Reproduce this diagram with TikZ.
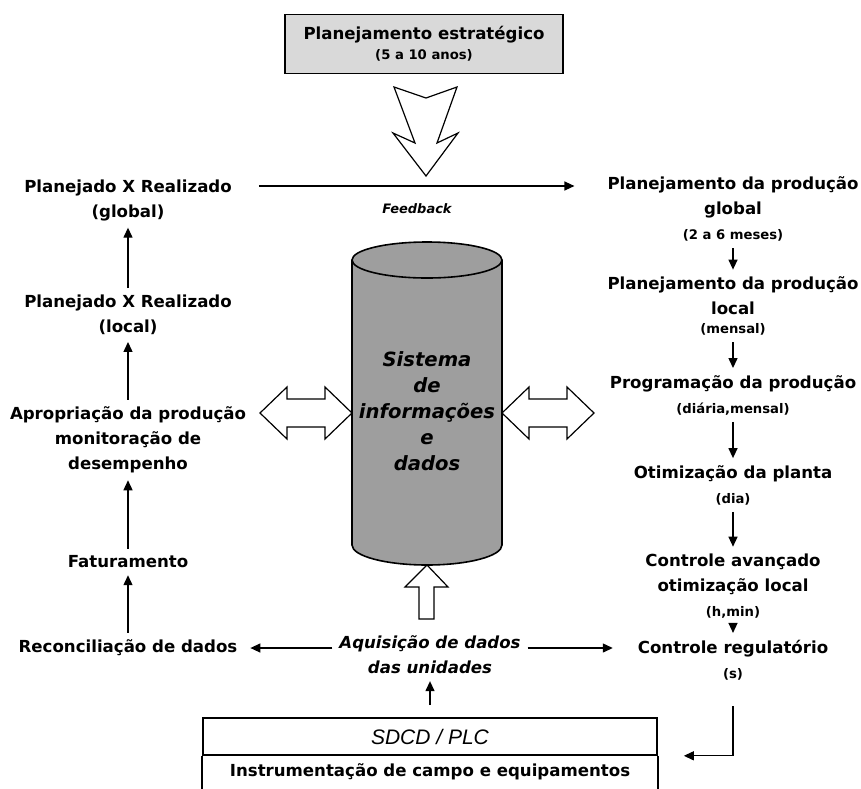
\documentclass[tikz,border=0pt]{standalone}
\usepackage{fontspec}
\setmainfont{DejaVu Sans}
\newfontfamily\plcfont{Liberation Sans}
\usetikzlibrary{arrows.meta, positioning, calc}

\newcommand{\minitxt}[1]{{\fontsize{6.6}{8}\selectfont #1}}

\tikzset{
  lbl/.style={font=\fontsize{8.3}{12.5}\selectfont\bfseries, align=center},
  flow/.style={-{Triangle[length=5pt,width=4.5pt]}, line width=0.65pt},
  blockarrow/.style={draw, fill=white, line width=0.6pt, line join=miter},
}

\begin{document}
\begin{tikzpicture}[x=0.5pt, y=-0.5pt]
        \useasboundingbox (0,0) rectangle (861,788);

        % Planejamento estrategico (box at the top)
        \node[draw, fill=black!15, line width=0.8pt, minimum width=139pt, minimum height=29.5pt,
              align=center, font=\fontsize{8.3}{10}\selectfont\bfseries] (pe) at (424,44)
              {Planejamento estratégico\\\minitxt{(5 a 10 anos)}};

        % big arrow down from the top box
        \draw[blockarrow] (394,87) -- (426,98) -- (457,87) -- (437,143) -- (458,133)
              -- (426,176) -- (393,133) -- (415,143) -- cycle;

        % left column (bottom to top)
        \node[lbl] (prg) at (128,200) {Planejado X Realizado\\(global)};
        \node[lbl] (prl) at (128,315) {Planejado X Realizado\\(local)};
        \node[lbl] (apr) at (128,440) {Apropriação da produção\\monitoração de\\desempenho};
        \node[lbl] (fat) at (128,562) {Faturamento};
        \node[lbl] (rec) at (128,648) {Reconciliação de dados};

        \draw[flow] (rec) -- (fat);
        \draw[flow] (fat) -- (apr);
        \draw[flow] (apr) -- (prl);
        \draw[flow] (prl) -- (prg);

        % right column (top to bottom)
        \node[lbl] (ppg) at (733,209) {Planejamento da produção\\global\\\minitxt{(2 a 6 meses)}};
        \node[lbl] (ppl) at (733,306) {Planejamento da produção\\local\\[-3pt]\minitxt{(mensal)}};
        \node[lbl] (prog) at (733,395) {Programação da produção\\\minitxt{(diária,mensal)}};
        \node[lbl] (otim) at (733,485) {Otimização da planta\\\minitxt{(dia)}};
        \node[lbl] (cav) at (733,586) {Controle avançado\\otimização local\\\minitxt{(h,min)}};
        \node[lbl] (creg) at (733,660) {Controle regulatório\\\minitxt{(s)}};

        \draw[flow] (ppg) -- (ppl);
        \draw[flow] (ppl) -- (prog);
        \draw[flow] (prog) -- (otim);
        \draw[flow] (otim) -- (cav);
        \draw[flow] (cav) -- (creg);

        % feedback line
        \coordinate (fbline) at (417,186);
        \draw[flow, shorten <=10pt, shorten >=13pt] (prg.east |- fbline) -- (ppg.west |- fbline);
        \node[font=\fontsize{6.5}{8}\selectfont\bfseries\itshape] (fb) at (417,209) {Feedback};

        % database cylinder
        \filldraw[fill=black!38, line width=0.8pt] (352,260) -- (352,545)
              arc[start angle=180, end angle=0, x radius=75, y radius=20] -- (502,260)
              arc[start angle=0, end angle=-180, x radius=75, y radius=18] -- cycle;
        \draw[line width=0.8pt] (352,260) arc[start angle=180, end angle=0, x radius=75, y radius=18];
        \node[align=center, font=\fontsize{9.8}{13}\selectfont\bfseries\itshape] (sis) at (427,411)
              {Sistema\\de\\informações\\e\\dados};

        % double arrows left and right of the cylinder
        \draw[blockarrow] (260,413) -- ++(27,-26) -- ++(0,12) -- ++(38,0) -- ++(0,-12) -- ++(27,26)
              -- ++(-27,26) -- ++(0,-12) -- ++(-38,0) -- ++(0,12) -- cycle;
        \draw[blockarrow] (502,413) -- ++(27,-26) -- ++(0,12) -- ++(38,0) -- ++(0,-12) -- ++(27,26)
              -- ++(-27,26) -- ++(0,-12) -- ++(-38,0) -- ++(0,12) -- cycle;

        % arrow up into the cylinder
        \draw[blockarrow] (427,565) -- (448,587) -- (434,587) -- (434,619) -- (419,619)
              -- (419,587) -- (405,587) -- cycle;

        % data acquisition
        \node[lbl, font=\fontsize{8.3}{12.5}\selectfont\bfseries\itshape] (aq) at (430,655)
              {Aquisição de dados\\das unidades};
        \draw[flow, shorten >=3pt] (aq.west |- rec) -- (rec.east);
        \draw[flow, shorten >=9pt] (aq.east |- rec) -- (creg.west |- rec);

        % SDCD / PLC box at the bottom
        \node[draw, line width=0.8pt, minimum width=227pt, minimum height=18.5pt,
              font=\plcfont\itshape\fontsize{10.5}{12}\selectfont] (sdcd) at (430,736.5) {SDCD / PLC};
        \draw[line width=0.8pt] (sdcd.south west) -- ++(0,40) (sdcd.south east) -- ++(0,40);
        \node[lbl] (instr) at (430,772) {Instrumentação de campo e equipamentos};

        \draw[flow, shorten <=6pt] (sdcd.north) -- (aq.south);
        \coordinate (sdin) at ([xshift=13pt]sdcd.south east);
        \draw[flow, shorten <=9.5pt] (creg) |- (sdin);
    \end{tikzpicture}
\end{document}
